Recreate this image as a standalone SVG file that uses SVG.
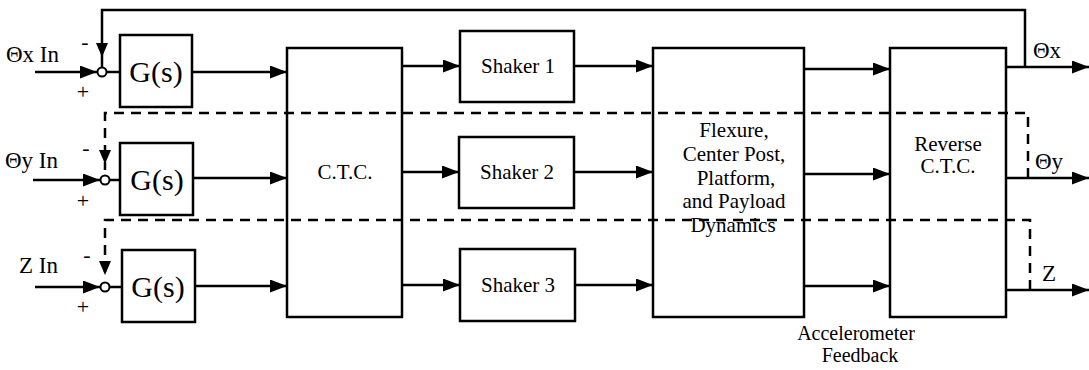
<svg xmlns="http://www.w3.org/2000/svg" width="1089" height="370" viewBox="0 0 1089 370">
<defs>
<marker id="ah" markerUnits="userSpaceOnUse" markerWidth="18" markerHeight="13" refX="17" refY="6.5" orient="auto">
<path d="M0,0 L17,6.5 L0,13 z" fill="#000"/>
</marker>
<style>
.box{fill:none;stroke:#000;stroke-width:2.5}
.ln{fill:none;stroke:#000;stroke-width:2.5}
.arr{fill:none;stroke:#000;stroke-width:2.5;marker-end:url(#ah)}
.dash{fill:none;stroke:#000;stroke-width:2.5;stroke-dasharray:10,7}
.sum{fill:#fff;stroke:#000;stroke-width:2}
.tip{fill:#000}
text{font-family:"Liberation Serif","DejaVu Serif",serif;fill:#000}
.g{font-size:30px;text-anchor:middle}
.lab{font-size:23px}
.sg{font-size:22px;text-anchor:middle}
.m{font-size:21px;text-anchor:middle}
.a{font-size:20px;text-anchor:middle}
</style>
</defs>
<g id="connectors">
<polyline class="ln" points="1025,67 1025,10 102,10 102,68"/>
<polygon class="tip" points="96,43 108,43 102,57"/>
<polyline class="dash" points="1028,178 1028,113 105,113 105,170"/>
<polygon class="tip" points="99,150 111,150 105,164"/>
<polyline class="dash" points="1030,290 1030,220 105,220 105,277"/>
<polygon class="tip" points="99,261 111,261 105,275"/>
<line class="arr" x1="35" y1="72" x2="97" y2="72"/>
<line class="arr" x1="33" y1="180" x2="100" y2="180"/>
<line class="arr" x1="35" y1="287" x2="100" y2="287"/>
<line class="ln" x1="106" y1="72" x2="120" y2="72"/>
<line class="ln" x1="109" y1="180" x2="120" y2="180"/>
<line class="ln" x1="109" y1="287" x2="122" y2="287"/>
<line class="arr" x1="193" y1="72" x2="287" y2="72"/>
<line class="arr" x1="193" y1="178" x2="287" y2="178"/>
<line class="arr" x1="195" y1="286" x2="287" y2="286"/>
<line class="arr" x1="402" y1="66" x2="460" y2="66"/>
<line class="arr" x1="402" y1="172" x2="459" y2="172"/>
<line class="arr" x1="402" y1="285" x2="460" y2="285"/>
<line class="arr" x1="574" y1="66" x2="653" y2="66"/>
<line class="arr" x1="574" y1="172" x2="653" y2="172"/>
<line class="arr" x1="575" y1="285" x2="653" y2="285"/>
<line class="arr" x1="804" y1="69" x2="890" y2="69"/>
<line class="arr" x1="804" y1="174" x2="890" y2="174"/>
<line class="arr" x1="804" y1="286" x2="890" y2="286"/>
<line class="arr" x1="1006" y1="67" x2="1089" y2="67"/>
<line class="arr" x1="1006" y1="178" x2="1089" y2="178"/>
<line class="arr" x1="1006" y1="290" x2="1089" y2="290"/>
</g>
<g id="sum1"><circle class="sum" cx="102" cy="72" r="4.5"/><text class="lab" x="6" y="62">Θx In</text><text class="sg" x="85" y="49">-</text><text class="sg" x="83" y="99">+</text></g>
<g id="sum2"><circle class="sum" cx="105" cy="180" r="4.5"/><text class="lab" x="5" y="168">Θy In</text><text class="sg" x="86" y="155">-</text><text class="sg" x="83" y="208">+</text></g>
<g id="sum3"><circle class="sum" cx="105" cy="287" r="4.5"/><text class="lab" x="19" y="273">Z In</text><text class="sg" x="87" y="262">-</text><text class="sg" x="83" y="314">+</text></g>
<g id="g1"><rect class="box" x="120" y="35" width="72" height="72"/><text class="g" x="156" y="82">G(s)</text></g>
<g id="g2"><rect class="box" x="120" y="143" width="73" height="72"/><text class="g" x="157" y="190">G(s)</text></g>
<g id="g3"><rect class="box" x="122" y="250" width="73" height="72"/><text class="g" x="158" y="297">G(s)</text></g>
<g id="ctc"><rect class="box" x="287" y="48" width="115" height="269"/><text class="m" x="345" y="179">C.T.C.</text></g>
<g id="shaker1"><rect class="box" x="460" y="31" width="114" height="71"/><text class="m" x="518" y="73">Shaker 1</text></g>
<g id="shaker2"><rect class="box" x="459" y="137" width="115" height="71"/><text class="m" x="517" y="179">Shaker 2</text></g>
<g id="shaker3"><rect class="box" x="460" y="249" width="115" height="72"/><text class="m" x="518" y="292">Shaker 3</text></g>
<g id="dyn"><rect class="box" x="653" y="48" width="151" height="269"/>
<text class="m" x="734" y="137">Flexure,</text>
<text class="m" x="734" y="161">Center Post,</text>
<text class="m" x="736" y="185">Platform,</text>
<text class="m" x="734" y="208">and Payload</text>
<text class="m" x="733" y="232">Dynamics</text></g>
<g id="rctc"><rect class="box" x="890" y="48" width="116" height="269"/><text class="m" x="948" y="151">Reverse</text><text class="m" x="948" y="173">C.T.C.</text></g>
<g id="outs"><text class="lab" x="1033" y="58">Θx</text><text class="lab" x="1035" y="169">Θy</text><text class="lab" x="1042" y="281">Z</text></g>
<g id="acc"><text class="a" x="856" y="340">Accelerometer</text><text class="a" x="860" y="362">Feedback</text></g>
</svg>
